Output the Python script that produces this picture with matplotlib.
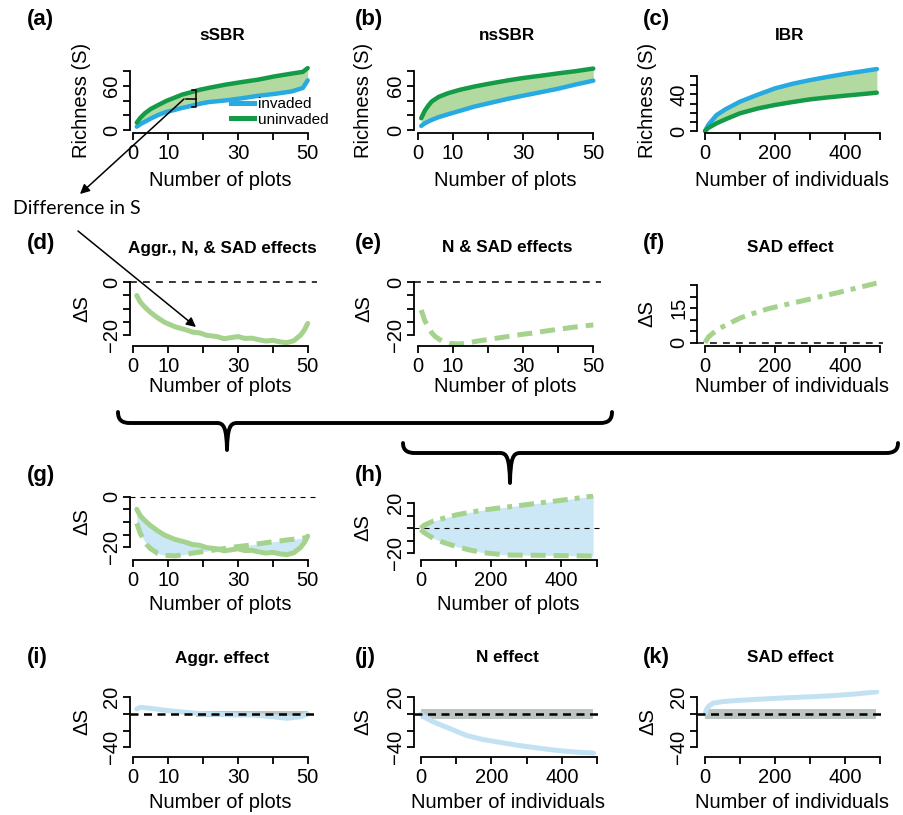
# %%
import matplotlib
matplotlib.use("Agg")
import numpy as np
from matplotlib import pyplot as plt
from matplotlib.path import Path
from matplotlib.patches import PathPatch
from matplotlib.lines import Line2D

plt.rcParams["font.family"] = ["Liberation Sans", "DejaVu Sans"]

# %% data
plots_ab = [1, 2, 3.35, 5, 7.2, 9.5, 11.9, 14, 16.7, 19, 21.5, 26.3, 31.1, 35.8,
            40.6, 45.4, 48.6, 50]
ssbr_uninv = [10, 16.5, 22.8, 28.5, 34, 39.5, 44, 48, 51.4, 54.5, 57, 61.4, 65,
              68.3, 72.8, 76.5, 78.8, 84]
ssbr_inv = [4.5, 8, 11.3, 15.5, 20.5, 24.5, 27.3, 30, 32.8, 35.5, 37.8, 40, 43,
            46.4, 49, 52.3, 57, 67.3]

plots_b = [1, 2, 3, 4, 6, 8.7, 12, 16.2, 20, 25.7, 30, 35.2, 40, 44.7, 50]
nssbr_uninv = [16, 26, 33, 38.7, 45, 50, 54.5, 59, 62.5, 67.3, 70.5, 73.7, 76.8,
               79.6, 83.3]
nssbr_inv = [5.5, 9, 11.5, 13.7, 17.5, 21.4, 26, 31.8, 36, 42.3, 46.5, 51.4, 56,
             61.4, 66.9]

indiv_c = [0, 10, 33, 60, 100, 150, 200, 250, 300, 350, 400, 450, 491]
ibr_inv = [0, 7, 17.4, 24, 32, 39.5, 46.5, 51.5, 55.5, 59, 62.3, 65.2, 67.6]
ibr_uninv = [0, 3.5, 8.4, 13, 19.3, 24.5, 28.4, 31.6, 34.5, 36.6, 38.5, 40.3, 41.8]

plots_d = [1, 2, 3, 4, 5, 7, 9, 12, 15, 17, 19, 21, 24, 26, 28, 30, 32, 34, 36,
           38, 40, 42, 44, 46, 48, 49, 50]
ds_all = [-5.0, -7.5, -9.0, -10.3, -11.5, -13.5, -15.2, -16.9, -18.0, -18.9, -19.2,
          -20.1, -20.6, -21.4, -21.0, -20.6, -21.3, -21.2, -21.8, -22.3, -22.0,
          -22.6, -22.9, -22.2, -20.0, -18.2, -15.6]
ds_nsad = [-10.5, -14.5, -17.0, -19.2, -20.6, -22.4, -23.2, -23.4, -22.8, -22.3,
           -21.9, -21.5, -20.9, -20.5, -20.1, -19.7, -19.4, -19.0, -18.6, -18.2,
           -17.8, -17.5, -17.1, -16.8, -16.5, -16.3, -16.2]

indiv_f = [0, 10, 36, 62, 102, 140, 178, 216, 254, 300, 339, 380, 415, 450, 490]
ds_sad = [0, 2.5, 5.8, 7.8, 10.8, 12.8, 14.6, 16.0, 17.3, 18.9, 20.3, 21.7, 23.0,
          24.3, 25.8]
ds_n_h = [-1, -3.5, -8, -11, -14.7, -17.4, -19.5, -20.6, -21.4, -21.5, -21.6, -21.8,
          -21.9, -22.0, -22.2]

plots_i = [1, 2, 5, 10, 15, 20, 28.5, 34, 40, 44, 48, 50]
ds_aggr = [6, 8, 6.8, 4, 2, 0.4, -1.2, -1.2, -3.2, -5.2, -3.2, 0]
band_i_x = [18, 50]
band_i_lo = [-3, -3]
band_i_hi = [3, 3]

indiv_j = [0, 10, 35, 82, 129, 175, 224, 270, 319, 360, 395, 440, 490]
ds_n = [0, -4, -9.4, -17.5, -25.7, -30.5, -33.9, -37.2, -40, -42.3, -44, -45.6,
        -46.9]

indiv_k = [0, 5, 10, 23, 50, 80, 150, 223, 300, 366, 430, 491]
ds_sad_k = [0, 6, 9, 13, 14.8, 15.9, 17.6, 19.2, 20.6, 22, 24, 26.5]

band_x = [0, 490]
band_lo = [-6.5, -6.5]
band_hi = [6, 6]

# %% styling
W, H = 904, 815
c_inv = "#27aae1"
c_uninv = "#149b48"
c_fill = "#b2d9a0"
c_lgreen = "#a5d38e"
c_lblue_fill = "#cce7f6"
c_lblue = "#c2e2f4"
c_band = "#bcc5c2"
FS = 14.5

fig = plt.figure(figsize=(W / 100, H / 100), dpi=100)


def P(x, y):
    return x / W, 1 - y / H


def make_ax(xmap, ymap, box):
    (px0, v0), (px1, v1) = xmap
    (py0, w0), (py1, w1) = ymap
    l, r, b, t = box
    sx = (v1 - v0) / (px1 - px0)
    sy = (w1 - w0) / (py1 - py0)
    ax = fig.add_axes([l / W, 1 - b / H, (r - l) / W, (b - t) / H])
    ax.set_xlim(v0 + (l - px0) * sx, v0 + (r - px0) * sx)
    ax.set_ylim(w0 + (b - py0) * sy, w0 + (t - py0) * sy)
    ax.patch.set_alpha(0)
    return ax


def style(ax, xt, xl, yt, yl):
    ax.spines["top"].set_visible(False)
    ax.spines["right"].set_visible(False)
    for s in ["left", "bottom"]:
        ax.spines[s].set_linewidth(1.3)
    ax.spines["left"].set_bounds(yt[0], yt[-1])
    ax.spines["bottom"].set_bounds(xt[0], xt[-1])
    ax.set_xticks(xt, xl)
    ax.set_yticks(yt, yl, rotation=90, va="center")
    ax.tick_params(direction="out", length=5, width=1.3, labelsize=FS)
    ax.tick_params(axis="x", pad=2.8)
    ax.tick_params(axis="y", pad=1.5)


xt_pl = [0, 10, 20, 30, 40, 50]
xl_pl = ["0", "10", "", "30", "", "50"]
xt_in = [0, 100, 200, 300, 400, 500]
xl_in = ["0", "", "200", "", "400", ""]

col1 = ((133.3, 0), (307.7, 50))
col2 = ((417.7, 0), (593.3, 50))
col2n = ((420.7, 0), (596.7, 500))
col3 = ((705, 0), (880, 500))
ylab = dict(fontsize=FS, rotation=90, ha="center", va="center")
xlab = dict(fontsize=FS, ha="center", va="center")
ttl = dict(fontsize=12.3, weight="bold", ha="center", va="center")
plab = dict(fontsize=16, weight="bold", ha="left", va="center")
zero1 = dict(color="k", lw=1.1, dashes=(4.5, 4))
zero2 = dict(color="k", lw=0.8, dashes=(4.5, 4.5))
zero3 = dict(color="k", lw=1.8, dashes=(3.2, 2.2))

# %% row 1
ya = ((130, 0), (71, 80))
ax = make_ax(col1, ya, (130, 317, 133, 66))
ax.fill_between(plots_ab, ssbr_inv, ssbr_uninv, color=c_fill, lw=0)
ax.plot(plots_ab, ssbr_inv, color=c_inv, lw=3.2, solid_capstyle="round")
ax.plot(plots_ab, ssbr_uninv, color=c_uninv, lw=3.2, solid_capstyle="round")
style(ax, xt_pl, xl_pl, [0, 20, 40, 60, 80], ["0", "", "", "60", ""])
handles = [Line2D([], [], color=c_inv, lw=3.6), Line2D([], [], color=c_uninv, lw=3.6)]
ax.legend(handles, ["invaded", "uninvaded"], loc="upper left", bbox_to_anchor=P(231, 97),
          bbox_transform=fig.transFigure, frameon=False, fontsize=11, borderpad=0,
          borderaxespad=0, handlelength=1.5, handletextpad=0.3, labelspacing=0.12)

ax = make_ax(col2, ya, (414, 601, 133, 66))
ax.fill_between(plots_b, nssbr_inv, nssbr_uninv, color=c_fill, lw=0)
ax.plot(plots_b, nssbr_inv, color=c_inv, lw=3.2, solid_capstyle="round")
ax.plot(plots_b, nssbr_uninv, color=c_uninv, lw=3.2, solid_capstyle="round")
style(ax, xt_pl, xl_pl, [0, 20, 40, 60, 80], ["0", "", "", "60", ""])

ax = make_ax(col3, ((131, 0), (76, 60)), (697.5, 886, 133, 66))
ax.fill_between(indiv_c, ibr_uninv, ibr_inv, color=c_fill, lw=0)
ax.plot(indiv_c, ibr_inv, color=c_inv, lw=3.2, solid_capstyle="round")
ax.plot(indiv_c, ibr_uninv, color=c_uninv, lw=3.2, solid_capstyle="round")
style(ax, xt_in, xl_in, [0, 10, 20, 30, 40, 50, 60], ["0", "", "", "", "40", "", ""])

# %% row 2
yd = ((282.3, 0), (335, -20))
yt_d = [-20, -15, -10, -5, 0]
yl_d = ["\u221220", "", "", "", "0"]
ax = make_ax(col1, yd, (130, 317, 346, 278))
ax.axhline(0, **zero1)
ax.plot(plots_d, ds_all, color=c_lgreen, lw=3.6, solid_capstyle="round")
style(ax, xt_pl, xl_pl, yt_d, yl_d)

ax = make_ax(col2, yd, (414, 601, 346, 278))
ax.axhline(0, **zero1)
ax.plot(plots_d, ds_nsad, color=c_lgreen, lw=3.6, dashes=(3, 1.6))
style(ax, xt_pl, xl_pl, yt_d, yl_d)

ax = make_ax(col3, ((342.7, 0), (285, 25)), (697.5, 883, 346, 280))
ax.axhline(0, **zero1)
ax.plot(indiv_f, ds_sad, color=c_lgreen, lw=3.6, dashes=(3, 1.4, 1, 1.4))
style(ax, xt_in, xl_in, [0, 5, 10, 15, 20, 25], ["0", "", "", "15", "", ""])

# %% row 3
ax = make_ax(col1, ((496.7, 0), (547.3, -20)), (130, 317, 560, 492))
ax.fill_between(plots_d, ds_nsad, ds_all, color=c_lblue_fill, lw=0)
ax.plot(plots_d, ds_all, color=c_lgreen, lw=3.6, solid_capstyle="round")
ax.plot(plots_d, ds_nsad, color=c_lgreen, lw=3.6, dashes=(3, 1.6))
ax.axhline(0, **zero2)
style(ax, xt_pl, xl_pl, yt_d, yl_d)

ax = make_ax(col2n, ((528.3, 0), (503.3, 20)), (414, 600, 560, 494))
ax.fill_between(indiv_f, ds_n_h, ds_sad, color=c_lblue_fill, lw=0)
ax.plot(indiv_f, ds_sad, color=c_lgreen, lw=3.6, dashes=(3, 1.4, 1, 1.4))
ax.plot(indiv_f, ds_n_h, color=c_lgreen, lw=3.6, dashes=(3, 1.6))
ax.axhline(0, **zero2)
style(ax, xt_in, xl_in, [-20, -10, 0, 10, 20], ["\u221220", "", "", "", "20"])

# %% row 4
yi = ((714, 0), (697.3, 20))
yt_i = [-40, -20, 0, 20]
yl_i = ["\u221240", "", "", "20"]
ax = make_ax(col1, yi, (130, 317, 757, 690))
ax.fill_between(band_i_x, band_i_lo, band_i_hi, color=c_band, lw=0)
ax.plot(plots_i, ds_aggr, color=c_lblue, lw=3.6, solid_capstyle="round")
ax.axhline(0, **zero3)
style(ax, xt_pl, xl_pl, yt_i, yl_i)

ax = make_ax(((421, 0), (597, 500)), yi, (414, 600, 757, 690))
ax.fill_between(band_x, band_lo, band_hi, color=c_band, lw=0)
ax.plot(indiv_j, ds_n, color=c_lblue, lw=3.6, solid_capstyle="round")
ax.axhline(0, **zero3)
style(ax, xt_in, xl_in, yt_i, yl_i)

ax = make_ax(col3, yi, (697.5, 883, 757, 690))
ax.fill_between(band_x, band_lo, band_hi, color=c_band, lw=0)
ax.plot(indiv_k, ds_sad_k, color=c_lblue, lw=3.6, solid_capstyle="round")
ax.axhline(0, **zero3)
style(ax, xt_in, xl_in, yt_i, yl_i)

# %% text
for s, x, y in [("(a)", 27, 19), ("(b)", 355, 19), ("(c)", 643, 19),
                ("(d)", 27, 243), ("(e)", 355, 243), ("(f)", 643, 243),
                ("(g)", 27, 475), ("(h)", 355, 475),
                ("(i)", 27, 658), ("(j)", 355, 658), ("(k)", 643, 658)]:
    fig.text(*P(x, y), s, **plab)

for s, x, y in [("sSBR", 222, 35), ("nsSBR", 507, 35), ("IBR", 790, 35),
                ("Aggr., N, & SAD effects", 222, 248), ("N & SAD effects", 507, 248),
                ("SAD effect", 790, 248), ("Aggr. effect", 222, 658),
                ("N effect", 507, 658), ("SAD effect", 790, 658)]:
    fig.text(*P(x, y), s, **ttl)

for x, y in [(82, 100), (364, 100), (648, 100)]:
    fig.text(*P(x, y), "Richness (S)", **ylab)
for x, y in [(82, 309), (364, 309), (647, 314), (82, 522), (363, 528),
             (82, 722), (363, 722), (648, 722)]:
    fig.text(*P(x, y), "\u0394S", **ylab)

for s, x, y in [("Number of plots", 220, 181), ("Number of plots", 505, 181),
                ("Number of individuals", 792, 181),
                ("Number of plots", 220, 387), ("Number of plots", 505, 387),
                ("Number of individuals", 792, 387),
                ("Number of plots", 220, 604), ("Number of plots", 508, 604),
                ("Number of plots", 220, 802), ("Number of individuals", 508, 802),
                ("Number of individuals", 792, 802)]:
    fig.text(*P(x, y), s, **xlab)

fig.text(*P(13, 208), "Difference in S", fontsize=14, family=["Lato", "DejaVu Sans"],
         ha="left", va="center")

# %% annotation layer: bracket, arrows, braces
ov = fig.add_axes([0, 0, 1, 1], zorder=10)
ov.set_xlim(0, W)
ov.set_ylim(H, 0)
ov.axis("off")
ov.patch.set_alpha(0)

ov.plot([192, 196.5, 196.5, 192], [90, 90, 107, 107], color="k", lw=1.1)
ov.plot([186, 196.5], [98.5, 98.5], color="k", lw=1.1)
arrow = dict(arrowstyle="-|>", color="k", lw=1.1, mutation_scale=14, shrinkA=0, shrinkB=0)
ov.annotate("", xy=(80, 194), xytext=(184, 99), arrowprops=arrow)
ov.annotate("", xy=(196, 327), xytext=(78, 231), arrowprops=arrow)


def brace(x0, x1, xm, ytop, ymid, ytip):
    verts = [(x0, ytop), (x0, ymid - 3), (x0 + 4, ymid), (x0 + 12, ymid),
             (xm - 10, ymid), (xm - 3, ymid), (xm - 0.5, ymid + 5), (xm, ytip),
             (xm + 0.5, ymid + 5), (xm + 3, ymid), (xm + 10, ymid),
             (x1 - 12, ymid), (x1 - 4, ymid), (x1, ymid - 3), (x1, ytop)]
    codes = [Path.MOVETO, Path.CURVE4, Path.CURVE4, Path.CURVE4,
             Path.LINETO, Path.CURVE4, Path.CURVE4, Path.CURVE4,
             Path.CURVE4, Path.CURVE4, Path.CURVE4,
             Path.LINETO, Path.CURVE4, Path.CURVE4, Path.CURVE4]
    ov.add_patch(PathPatch(Path(verts, codes), fill=False, lw=2.8, capstyle="round",
                           joinstyle="round"))


brace(118, 612, 227, 412, 423, 450)
brace(403, 898, 510, 443, 453, 483)

fig.savefig("out.png", dpi=100)
